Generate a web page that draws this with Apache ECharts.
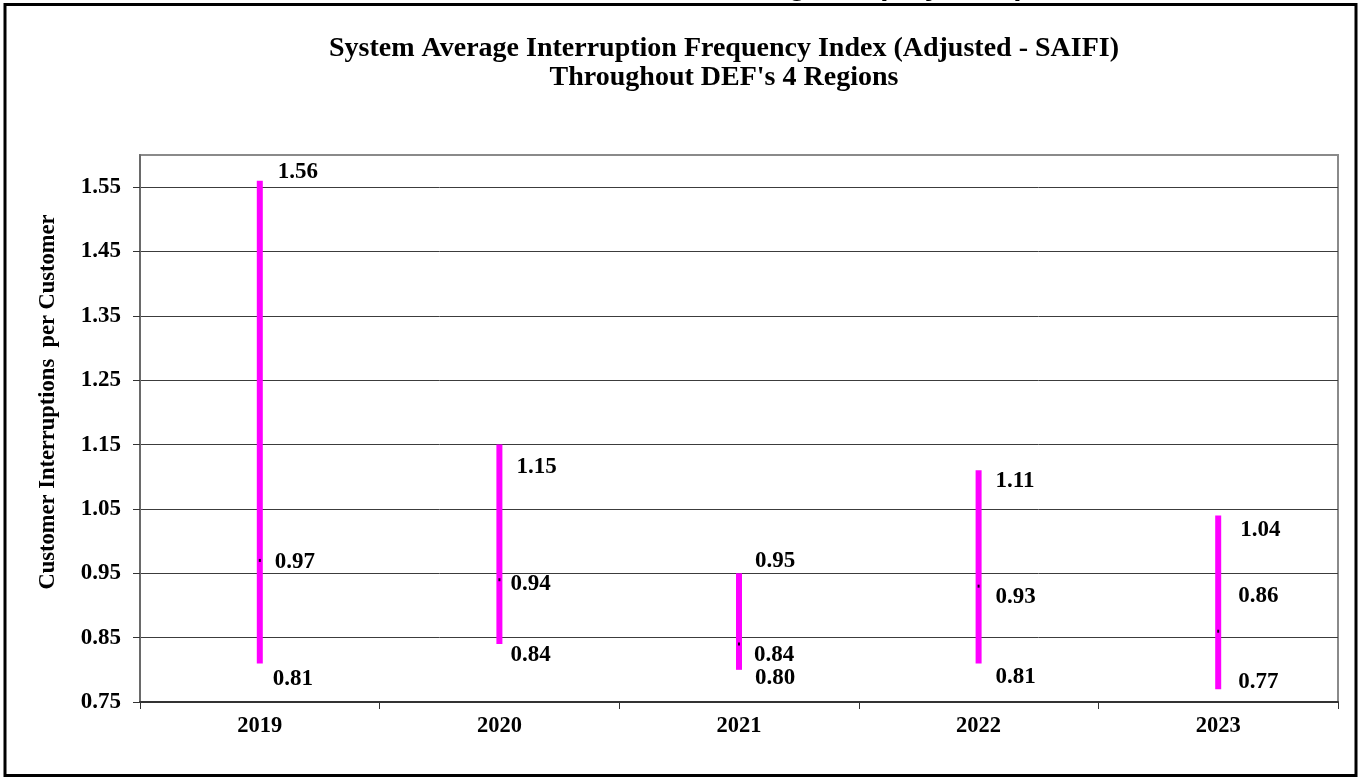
<!DOCTYPE html>
<html>
<head>
<meta charset="utf-8">
<title>SAIFI (Adjusted) Throughout DEF's 4 Regions</title>
<script src="https://cdn.jsdelivr.net/npm/echarts@6/dist/echarts.min.js"></script>
<style>
  html, body { margin: 0; padding: 0; background: #ffffff; }
  #chart { width: 1361px; height: 780px; }
</style>
</head>
<body>
<div id="chart"></div>
<script>
// Yearly SAIFI range across the four regions: highest, middle and lowest value
const years = ['2019', '2020', '2021', '2022', '2023'];
const highValues = [1.56, 1.15, 0.95, 1.11, 1.04];
const midValues = [0.97, 0.94, 0.84, 0.93, 0.86];
const lowValues = [0.81, 0.84, 0.80, 0.81, 0.77];
const yTickValues = [0.75, 0.85, 0.95, 1.05, 1.15, 1.25, 1.35, 1.45, 1.55];

// Hand-placed label offsets [dx, dy] in pixels from each mark
const highNudge = [[18, -9], [17, 22], [16, -12], [17, 11], [22, 15]];
const midNudge = [[15, 2], [11, 4], [15, 11], [17, 11], [20, -35]];
const lowNudge = [[13, 16], [11, 11], [16, 8], [17, 14], [20, -7]];

const SERIF = '"Liberation Serif", "Times New Roman", serif';
const LABEL_FONT = 'bold 23px ' + SERIF;

const rows = years.map((y, i) => [i, highValues[i], midValues[i], lowValues[i]]);

function label(pt, nudge, value) {
  return {
    type: 'text',
    x: pt[0] + nudge[0],
    y: pt[1] + nudge[1],
    style: {
      text: value.toFixed(2),
      font: LABEL_FONT,
      fill: '#000000',
      align: 'left',
      verticalAlign: 'middle'
    }
  };
}

const chart = echarts.init(document.getElementById('chart'), null, { renderer: 'canvas' });

chart.setOption({
  backgroundColor: '#ffffff',
  animation: false,
  grid: {
    left: 140, top: 155, right: 23, bottom: 78,
    show: true, borderColor: '#8a8a8a', borderWidth: 2, backgroundColor: '#ffffff'
  },
  xAxis: {
    type: 'category',
    data: years,
    boundaryGap: true,
    axisLine: { show: true, lineStyle: { color: '#333333', width: 2 } },
    axisTick: { show: true, inside: false, length: 7, alignWithLabel: false, lineStyle: { color: '#333333', width: 1 } },
    axisLabel: { margin: 13, color: '#000000', fontFamily: SERIF, fontWeight: 'bold', fontSize: 22.5 },
    splitLine: { show: false }
  },
  yAxis: {
    type: 'value',
    min: 0.75,
    max: 1.6,
    axisLine: { show: true, lineStyle: { color: '#6a6a6a', width: 2 } },
    axisTick: { show: true, length: 7, customValues: yTickValues, lineStyle: { color: '#333333', width: 1 } },
    axisLabel: {
      customValues: yTickValues,
      margin: 19,
      color: '#000000', fontFamily: SERIF, fontWeight: 'bold', fontSize: 23,
      formatter: v => v.toFixed(2)
    },
    splitLine: { show: true, lineStyle: { color: '#3c3c3c', width: 1 } }
  },
  series: [{
    type: 'custom',
    data: rows,
    encode: { x: 0, y: [1, 2, 3] },
    clip: false,
    renderItem: function (params, api) {
      const i = params.dataIndex;
      const x = api.value(0);
      const hi = api.coord([x, api.value(1)]);
      const md = api.coord([x, api.value(2)]);
      const lo = api.coord([x, api.value(3)]);
      return {
        type: 'group',
        children: [
          { type: 'rect', shape: { x: hi[0] - 3, y: hi[1], width: 6, height: lo[1] - hi[1] }, style: { fill: '#ff00ff' } },
          { type: 'rect', shape: { x: md[0] - 1, y: md[1] - 1.5, width: 2, height: 3 }, style: { fill: '#1a001a' } },
          label(hi, highNudge[i], api.value(1)),
          label(md, midNudge[i], api.value(2)),
          label(lo, lowNudge[i], api.value(3))
        ]
      };
    }
  }],
  graphic: [
    // outer frame
    { type: 'rect', z: 100, shape: { x: 5, y: 4.5, width: 1351, height: 771 }, style: { fill: 'none', stroke: '#000000', lineWidth: 3 } },
    // heading above the frame (runs off the top edge)
    { type: 'text', z: 101, x: 1025, y: 2, style: { text: 'Regions (Adjusted)', font: 'bold 30px "Liberation Sans", Arial, sans-serif', fill: '#000000', align: 'right', verticalAlign: 'bottom' } },
    // chart title
    { type: 'text', x: 724, y: 49, style: { text: 'System Average Interruption Frequency Index (Adjusted - SAIFI)', font: 'bold 28px ' + SERIF, fill: '#000000', align: 'center', verticalAlign: 'middle' } },
    { type: 'text', x: 724, y: 78, style: { text: "Throughout DEF's 4 Regions", font: 'bold 28px ' + SERIF, fill: '#000000', align: 'center', verticalAlign: 'middle' } },
    // y axis title
    { type: 'text', x: 48, y: 402, rotation: Math.PI / 2, style: { text: 'Customer Interruptions  per Customer', font: 'bold 22.5px ' + SERIF, fill: '#000000', align: 'center', verticalAlign: 'middle' } }
  ]
});
</script>
</body>
</html>
